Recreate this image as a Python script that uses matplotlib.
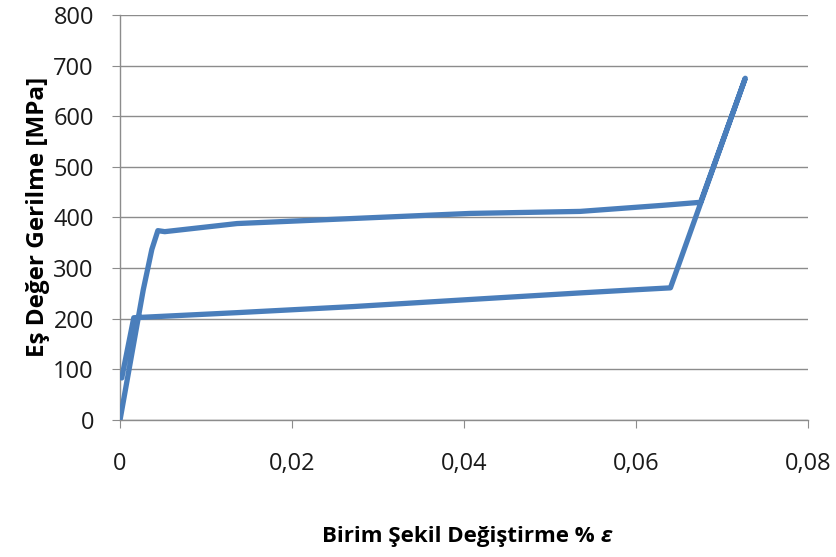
import matplotlib
matplotlib.use("Agg")
import matplotlib.pyplot as plt
from matplotlib.ticker import FuncFormatter

plt.rcParams['font.family'] = ['Open Sans', 'DejaVu Sans']

# gerinim - gerilme egrisi: yukleme ust platodan, bosaltma alt platodan
strain = [0, 0.0027, 0.0037, 0.0044, 0.0052, 0.0136, 0.0271, 0.0407, 0.0535,
          0.0631, 0.0675, 0.0727, 0.0640, 0.0597, 0.0535, 0.0407, 0.0271,
          0.0136, 0.0016, 0.0002]
stress = [0, 257, 337, 374, 372, 388, 398, 408, 412,
          424, 430, 675, 261, 257, 251, 238, 224,
          212, 202, 83]

xticks = [0, 0.02, 0.04, 0.06, 0.08]
yticks = [0, 100, 200, 300, 400, 500, 600, 700, 800]

fig = plt.figure(figsize=(8.37, 5.57), dpi=100)
ax = fig.add_axes([0.1434, 0.2460, 0.8220, 0.7271])

ax.plot(strain, stress, color='#4A7EBB', linewidth=3.8,
        solid_joinstyle='round', solid_capstyle='round', zorder=3)

ax.set_xlim(0, 0.08)
ax.set_ylim(0, 800)
ax.set_xticks(xticks)
ax.set_yticks(yticks)
ax.xaxis.set_major_formatter(FuncFormatter(
    lambda v, p: '0' if v == 0 else ('%.2f' % v).replace('.', ',')))

ax.yaxis.grid(True, color='#8C8C8C', linewidth=1.0)
ax.set_axisbelow(True)
for s in ['top', 'right']:
    ax.spines[s].set_visible(False)
for s in ['left', 'bottom']:
    ax.spines[s].set_color('#8C8C8C')
    ax.spines[s].set_linewidth(1.0)

ax.tick_params(axis='y', length=5.8, color='#8C8C8C', pad=13, labelsize=17,
               labelcolor='#1a1a1a')
ax.tick_params(axis='x', length=5.8, color='#8C8C8C', pad=17, labelsize=17,
               labelcolor='#1a1a1a')

ax.set_ylabel('Eş Değer Gerilme [MPa]', fontsize=17.5, fontweight='bold',
              color='#000000')
ax.yaxis.set_label_coords(-0.1017, 0.501)

# eksen etiketi, sonunda italik epsilon
xlab = fig.text(461 / 837, 1 - 526 / 557, 'Birim Şekil Değiştirme % ',
                ha='center', va='top', fontsize=16, fontweight='bold')
ax.annotate('ε', xy=(1, 0), xycoords=xlab, va='bottom', ha='left',
            fontsize=16, fontweight='bold', fontstyle='italic')

plt.savefig('out.png', dpi=100)
